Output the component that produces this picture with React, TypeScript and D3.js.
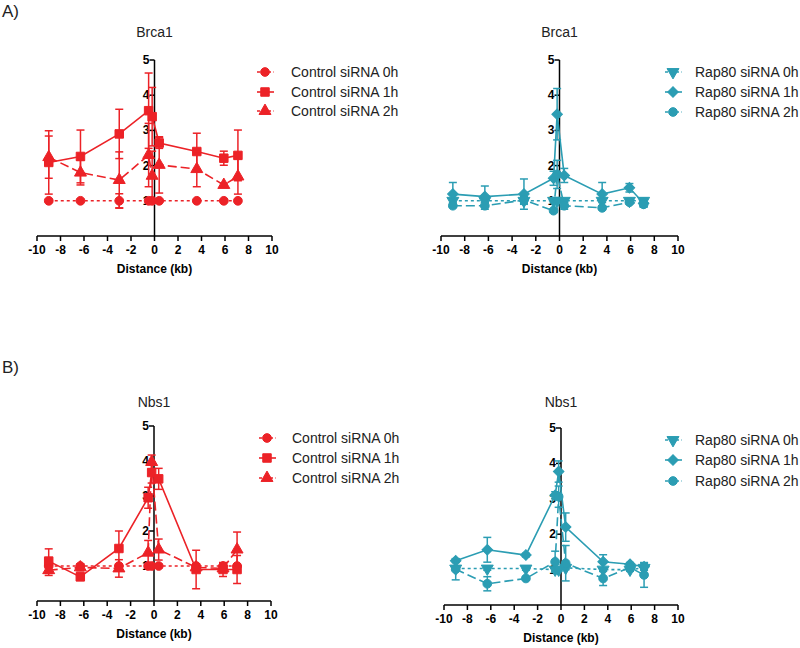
import React from "react";
import * as d3 from "d3";

// ---- data ----
const distances = [-9, -6.3, -3, -0.5, -0.2, 0.4, 3.6, 5.9, 7.1];
const xTicks = [-10, -8, -6, -4, -2, 0, 2, 4, 6, 8, 10];
const yTicks = [1, 2, 3, 4, 5];

const controlLabels = ["Control siRNA 0h", "Control siRNA 1h", "Control siRNA 2h"];
const rapLabels = ["Rap80 siRNA 0h", "Rap80 siRNA 1h", "Rap80 siRNA 2h"];

// Brca1 - Control
const brcaCtrl0 = [1, 1, 1, 1, 1, 1, 1, 1, 1];
const brcaCtrl0Err = [0.04, 0.04, 0.2, 0.04, 0.04, 0.04, 0.03, 0.03, 0.03];
const brcaCtrl1 = [2.09, 2.26, 2.9, 3.56, 3.39, 2.64, 2.4, 2.21, 2.29];
const brcaCtrl1Err = [0.9, 0.75, 0.7, 1.07, 0.83, 0.15, 0.52, 0.2, 0.72];
const brcaCtrl2 = [2.24, 1.8, 1.59, 2.3, 1.71, 2.02, 1.9, 1.45, 1.69];
const brcaCtrl2Err = [0.6, 0.35, 0.8, 0.9, 0.7, 0.8, 0.5, 0.05, 0.5];

// Brca1 - Rap80
const brcaRap0 = [1, 1, 1, 1, 1, 1, 1, 1, 1];
const brcaRap0Err = [0.05, 0.05, 0.1, 0.05, 0.05, 0.05, 0.05, 0.05, 0.08];
const brcaRap1 = [1.19, 1.12, 1.19, 1.64, 3.46, 1.72, 1.19, 1.37, 0.93];
const brcaRap1Err = [0.33, 0.3, 0.43, 0.2, 0.73, 0.2, 0.33, 0.12, 0.1];
const brcaRap2 = [0.86, 0.86, 1.02, 0.72, 1.75, 0.86, 0.8, 0.96, 0.9];
const brcaRap2Err = [0.05, 0.1, 0.1, 0.05, 0.4, 0.1, 0.05, 0.05, 0.08];

// Nbs1 - Control
const nbsCtrl0 = [1, 1, 1, 1, 1, 1, 1, 1, 1];
const nbsCtrl0Err = [0.05, 0.05, 0.05, 0.05, 0.05, 0.05, 0.05, 0.05, 0.05];
const nbsCtrl1 = [1.14, 0.69, 1.5, 2.95, 3.67, 3.49, 0.9, 0.9, 0.9];
const nbsCtrl1Err = [0.35, 0.1, 0.5, 0.3, 0.3, 0.3, 0.55, 0.2, 0.4];
const nbsCtrl2 = [0.88, 0.96, 0.93, 1.38, 3.97, 1.47, 0.96, 0.93, 1.47];
const nbsCtrl2Err = [0.15, 0.1, 0.25, 0.35, 0.2, 0.3, 0.1, 0.1, 0.5];

// Nbs1 - Rap80
const nbsRap0 = [1.03, 1.03, 1.03, 1.0, 1.0, 1.05, 1.0, 1.0, 1.05];
const nbsRap0Err = [0.05, 0.05, 0.05, 0.05, 0.05, 0.05, 0.05, 0.05, 0.05];
const nbsRap1 = [1.25, 1.56, 1.41, 3.1, 3.77, 2.2, 1.22, 1.15, 1.08];
const nbsRap1Err = [0.05, 0.35, 0.05, 0.1, 0.3, 0.4, 0.2, 0.05, 0.1];
const nbsRap2 = [1.01, 0.6, 0.75, 1.22, 3.06, 1.18, 0.75, 1.06, 0.85];
const nbsRap2Err = [0.3, 0.2, 0.05, 0.3, 0.3, 0.5, 0.2, 0.05, 0.35];

const RED = "#ec2227";
const TEAL = "#2b9db3";
const FONT = "Liberation Sans, Arial, sans-serif";

type Series = { label: string; values: number[]; errs: number[]; shape: string; dash: string };

type PanelCfg = {
  title: string;
  color: string;
  xr: [number, number];
  yr: [number, number];
  titleY: number;
  legX: number;
  legTextX: number;
  legY: number[];
  series: Series[];
};

const ctrlShapes = ["circle", "square", "triangle"];
const rapShapes = ["triangleDown", "diamond", "circle"];
const dashes = ["3,3", "", "9,4"];

function mk(labels: string[], shapes: string[], vals: number[][], errs: number[][]): Series[] {
  return labels.map((l, i) => ({ label: l, values: vals[i], errs: errs[i], shape: shapes[i], dash: dashes[i] }));
}

const panels: PanelCfg[] = [
  {
    title: "Brca1", color: RED, xr: [37, 272], yr: [236, 60], titleY: 37,
    legX: 265, legTextX: 291, legY: [72, 92, 111],
    series: mk(controlLabels, ctrlShapes, [brcaCtrl0, brcaCtrl1, brcaCtrl2], [brcaCtrl0Err, brcaCtrl1Err, brcaCtrl2Err]),
  },
  {
    title: "Brca1", color: TEAL, xr: [441, 678], yr: [236, 60], titleY: 37,
    legX: 673, legTextX: 695, legY: [72, 92, 112],
    series: mk(rapLabels, rapShapes, [brcaRap0, brcaRap1, brcaRap2], [brcaRap0Err, brcaRap1Err, brcaRap2Err]),
  },
  {
    title: "Nbs1", color: RED, xr: [37, 271], yr: [601, 426], titleY: 407,
    legX: 267, legTextX: 292, legY: [438, 458, 478],
    series: mk(controlLabels, ctrlShapes, [nbsCtrl0, nbsCtrl1, nbsCtrl2], [nbsCtrl0Err, nbsCtrl1Err, nbsCtrl2Err]),
  },
  {
    title: "Nbs1", color: TEAL, xr: [444, 678], yr: [605, 428], titleY: 407,
    legX: 673, legTextX: 695, legY: [440, 460, 481],
    series: mk(rapLabels, rapShapes, [nbsRap0, nbsRap1, nbsRap2], [nbsRap0Err, nbsRap1Err, nbsRap2Err]),
  },
];

function symbolPath(shape: string): { d: string; rot: number } {
  let type: d3.SymbolType = d3.symbolCircle;
  let size = 60;
  let rot = 0;
  if (shape === "square") { type = d3.symbolSquare; size = 72; }
  else if (shape === "triangle") { type = d3.symbolTriangle; size = 62; }
  else if (shape === "triangleDown") { type = d3.symbolTriangle; size = 62; rot = 180; }
  else if (shape === "diamond") { type = d3.symbolSquare; size = 56; rot = 45; }
  return { d: d3.symbol().type(type).size(size)() || "", rot };
}

function Marker({ shape, x, y, color }: { shape: string; x: number; y: number; color: string }) {
  const { d, rot } = symbolPath(shape);
  return <path d={d} transform={`translate(${x},${y}) rotate(${rot})`} fill={color} stroke={color} strokeWidth={1} />;
}

function Panel({ cfg }: { cfg: PanelCfg }) {
  const x = d3.scaleLinear().domain([-10, 10]).range(cfg.xr);
  const y = d3.scaleLinear().domain([0, 5]).range(cfg.yr);
  const x0 = x(0);
  const axisY = y(0);
  const line = d3.line<number>().x((_, i) => x(distances[i])).y((v) => y(v));
  const cap = 4;
  return (
    <g>
      <text x={x0} y={cfg.titleY} textAnchor="middle" fontFamily={FONT} fontSize={14} fill="#222">{cfg.title}</text>
      {/* x axis */}
      <line x1={x(-10)} x2={x(10)} y1={axisY} y2={axisY} stroke="#000" strokeWidth={1.5} />
      {xTicks.map((t) => (
        <g key={t}>
          <line x1={x(t)} x2={x(t)} y1={axisY} y2={axisY + 5} stroke="#000" strokeWidth={1.5} />
          <text x={x(t)} y={axisY + 18} textAnchor="middle" fontFamily={FONT} fontWeight="bold" fontSize={12} fill="#000">{t}</text>
        </g>
      ))}
      <text x={x0} y={axisY + 37} textAnchor="middle" fontFamily={FONT} fontWeight="bold" fontSize={12} fill="#000">Distance (kb)</text>
      {/* y axis */}
      <line x1={x0} x2={x0} y1={y(0)} y2={y(5)} stroke="#000" strokeWidth={1.5} />
      {yTicks.map((t) => (
        <g key={t}>
          <line x1={x0 - 5} x2={x0} y1={y(t)} y2={y(t)} stroke="#000" strokeWidth={1.5} />
          <text x={x0 - 5} y={y(t) + 4} textAnchor="end" fontFamily={FONT} fontWeight="bold" fontSize={12} fill="#000">{t}</text>
        </g>
      ))}
      {/* data */}
      {cfg.series.map((s, si) => (
        <g key={si}>
          {s.values.map((v, i) => {
            const px = x(distances[i]);
            const top = y(v + s.errs[i]);
            const bot = y(Math.max(0, v - s.errs[i]));
            return (
              <g key={i}>
                <line x1={px} x2={px} y1={top} y2={bot} stroke={cfg.color} strokeWidth={1.5} />
                <line x1={px - cap} x2={px + cap} y1={top} y2={top} stroke={cfg.color} strokeWidth={1.5} />
                <line x1={px - cap} x2={px + cap} y1={bot} y2={bot} stroke={cfg.color} strokeWidth={1.5} />
              </g>
            );
          })}
          <path d={line(s.values) || ""} fill="none" stroke={cfg.color} strokeWidth={1.6} strokeDasharray={s.dash || undefined} />
          {s.values.map((v, i) => (
            <Marker key={i} shape={s.shape} x={x(distances[i])} y={y(v)} color={cfg.color} />
          ))}
        </g>
      ))}
      {/* legend */}
      {cfg.series.map((s, si) => (
        <g key={si}>
          <line x1={cfg.legX - 8} x2={cfg.legX + 9} y1={cfg.legY[si]} y2={cfg.legY[si]} stroke={cfg.color} strokeWidth={1.6} strokeDasharray={s.dash ? "3,2.5" : undefined} />
          <Marker shape={s.shape} x={cfg.legX} y={cfg.legY[si]} color={cfg.color} />
          <text x={cfg.legTextX} y={cfg.legY[si] + 5} fontFamily={FONT} fontSize={14} fill="#222">{s.label}</text>
        </g>
      ))}
    </g>
  );
}

export default function App() {
  return (
    <svg width={800} height={648} style={{ position: "absolute", left: 0, top: 0, background: "#fff" }}>
      <rect width={800} height={648} fill="#fff" />
      <text x={2} y={17} fontFamily={FONT} fontSize={17} fill="#222">A)</text>
      <text x={2} y={373} fontFamily={FONT} fontSize={17} fill="#222">B)</text>
      {panels.map((p, i) => (
        <Panel key={i} cfg={p} />
      ))}
    </svg>
  );
}
